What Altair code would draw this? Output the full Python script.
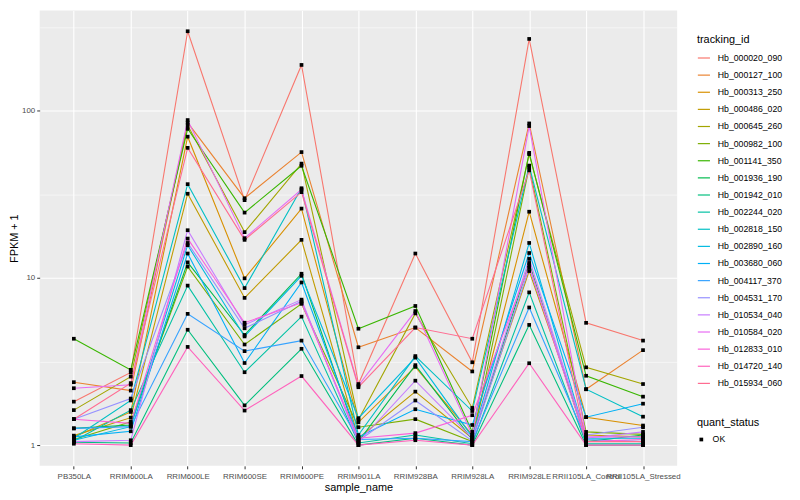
import altair as alt
import pandas as pd

samples = ["PB350LA", "RRIM600LA", "RRIM600LE", "RRIM600SE", "RRIM600PE", "RRIM901LA",
           "RRIM928BA", "RRIM928LA", "RRIM928LE", "RRII105LA_Control", "RRII105LA_Stressed"]

tracking_ids = ["Hb_000020_090", "Hb_000127_100", "Hb_000313_250", "Hb_000486_020",
                "Hb_000645_260", "Hb_000982_100", "Hb_001141_350", "Hb_001936_190",
                "Hb_001942_010", "Hb_002244_020", "Hb_002818_150", "Hb_002890_160",
                "Hb_003680_060", "Hb_004117_370", "Hb_004531_170", "Hb_010534_040",
                "Hb_010584_020", "Hb_012833_010", "Hb_014720_140", "Hb_015934_060"]

colors = ["#F8766D", "#EA8331", "#D89000", "#C09B00", "#A3A500", "#7CAE00", "#39B600",
          "#00BB4E", "#00BF7D", "#00C1A3", "#00BFC4", "#00BAE0", "#00B0F6", "#35A2FF",
          "#9590FF", "#C77CFF", "#E76BF3", "#FA62DB", "#FF62BC", "#FF6C91"]

# FPKM + 1 per sample (order of `samples`)
v_000020_090 = [1.82, 2.72, 299, 29.2, 188, 2.32, 14.0, 3.13, 269, 5.39, 4.22]
v_000127_100 = [2.38, 2.12, 85, 30.0, 56.6, 3.85, 5.05, 2.76, 84, 2.16, 3.70]
v_000313_250 = [1.12, 1.58, 70, 9.95, 26.0, 1.37, 2.94, 1.15, 24.9, 1.47, 1.31]
v_000486_020 = [1.14, 1.46, 31.9, 7.6, 16.9, 1.10, 2.09, 1.10, 11.0, 1.15, 1.12]
v_000645_260 = [1.62, 2.57, 82, 18.8, 48.3, 1.42, 6.14, 1.67, 55, 2.92, 2.32]
v_000982_100 = [1.08, 1.38, 11.7, 4.0, 7.0, 1.28, 1.43, 1.05, 46, 1.20, 1.16]
v_001141_350 = [4.33, 2.82, 78, 24.6, 46.9, 4.97, 6.8, 1.20, 56, 2.60, 1.95]
v_001936_190 = [1.26, 1.32, 12.4, 4.56, 10.6, 1.05, 3.01, 1.08, 12.3, 1.05, 1.15]
v_001942_010 = [1.04, 1.03, 4.9, 1.73, 3.77, 1.0, 1.10, 1.0, 5.24, 1.0, 1.0]
v_002244_020 = [1.06, 1.62, 9.0, 2.73, 5.87, 1.03, 1.15, 1.02, 8.2, 1.02, 1.02]
v_002818_150 = [1.10, 1.85, 36.4, 8.7, 34.4, 1.15, 3.41, 1.60, 47, 2.16, 1.48]
v_002890_160 = [1.07, 1.29, 15.7, 4.47, 10.3, 1.45, 3.34, 1.12, 16.2, 1.10, 1.10]
v_003680_060 = [1.12, 1.21, 14.0, 3.1, 9.4, 1.12, 1.64, 1.32, 14.1, 1.47, 1.77]
v_004117_370 = [1.26, 1.29, 6.1, 3.65, 4.22, 1.08, 1.10, 1.05, 6.66, 1.08, 1.05]
v_004531_170 = [1.43, 1.90, 16.2, 5.0, 7.26, 1.06, 1.85, 1.06, 11.5, 1.15, 1.28]
v_010534_040 = [1.05, 1.07, 19.3, 5.24, 7.42, 1.04, 2.43, 1.10, 13.0, 1.10, 1.20]
v_010584_020 = [2.19, 2.30, 88, 17.3, 33.8, 2.27, 6.34, 1.15, 81, 1.12, 1.12]
v_012833_010 = [1.43, 1.35, 17.2, 5.4, 7.1, 1.10, 1.18, 1.51, 11.9, 1.05, 1.08]
v_014720_140 = [1.02, 1.0, 3.87, 1.61, 2.59, 1.0, 1.07, 1.0, 3.09, 1.0, 1.0]
v_015934_060 = [1.43, 2.35, 60, 16.9, 32.6, 2.22, 5.05, 4.33, 44, 1.05, 1.05]

series_values = [v_000020_090, v_000127_100, v_000313_250, v_000486_020, v_000645_260,
                 v_000982_100, v_001141_350, v_001936_190, v_001942_010, v_002244_020,
                 v_002818_150, v_002890_160, v_003680_060, v_004117_370, v_004531_170,
                 v_010534_040, v_010584_020, v_012833_010, v_014720_140, v_015934_060]

rows = []
for tid, vals in zip(tracking_ids, series_values):
    for i, (s, v) in enumerate(zip(samples, vals)):
        rows.append({"tracking_id": tid, "sample_name": s, "idx": i,
                     "FPKM": v, "quant_status": "OK"})
df = pd.DataFrame(rows)

FONT = "Liberation Sans"
major = "datum.value == 1 || datum.value == 10 || datum.value == 100"

x = alt.X("sample_name:N", sort=samples,
          scale=alt.Scale(type="point", domain=samples, padding=0.6),
          axis=alt.Axis(title="sample_name", labelAngle=0, labelOverlap=False,
                        labelFontSize=8, labelColor="#4D4D4D", labelPadding=4,
                        tickColor="#333333", tickSize=3, domain=False,
                        grid=True, gridColor="white", gridWidth=1.1,
                        titleFontSize=11, titleFontWeight="normal", titleColor="black",
                        titlePadding=1))

y = alt.Y("FPKM:Q",
          scale=alt.Scale(type="log", domain=[0.752, 398], nice=False),
          axis=alt.Axis(title="FPKM + 1", values=[1, 3.1623, 10, 31.623, 100, 316.23],
                        labelExpr="datum.value == 1 ? '1' : datum.value == 10 ? '10' : datum.value == 100 ? '100' : ''",
                        labelFontSize=8, labelColor="#4D4D4D", labelPadding=2,
                        tickColor="#333333", tickSize=3, domain=False,
                        tickOpacity={"condition": {"test": major, "value": 1}, "value": 0},
                        grid=True, gridColor="white",
                        gridWidth={"condition": {"test": major, "value": 1.1}, "value": 0.5},
                        titleFontSize=11, titleFontWeight="normal", titleColor="black",
                        titlePadding=2))

base = alt.Chart(df)

lines = base.mark_line(strokeWidth=1.1).encode(
    x=x, y=y,
    color=alt.Color("tracking_id:N",
                    scale=alt.Scale(domain=tracking_ids, range=colors),
                    legend=alt.Legend(title="tracking_id", orient="none",
                                      legendX=664, legendY=24,
                                      symbolType="stroke", symbolSize=150,
                                      symbolStrokeWidth=1.2,
                                      labelFontSize=8.8, labelColor="black",
                                      labelOffset=7,
                                      titleFontSize=11, titleFontWeight="normal",
                                      titleColor="black", rowPadding=5.3,
                                      titlePadding=6)),
    order=alt.Order("idx:Q"),
)

points = base.mark_point(filled=True, size=14, opacity=1, color="black").encode(
    x=x, y=y,
    shape=alt.Shape("quant_status:N",
                    scale=alt.Scale(domain=["OK"], range=["square"]),
                    legend=alt.Legend(title="quant_status", orient="none",
                                      legendX=664, legendY=411,
                                      symbolFillColor="black", symbolStrokeColor="black",
                                      symbolSize=14, labelOffset=7,
                                      labelFontSize=8.8, labelColor="black",
                                      titleFontSize=11, titleFontWeight="normal",
                                      titleColor="black", titlePadding=7)),
)

chart = alt.layer(lines, points).properties(
    width=644, height=460,
    autosize=alt.AutoSizeParams(type="none"),
    padding={"left": 32, "top": 0, "right": 116, "bottom": 32},
).configure(font=FONT).configure_view(fill="#EBEBEB", stroke=None)

chart.save("out.html", embed_options={"renderer": "svg", "actions": False})
